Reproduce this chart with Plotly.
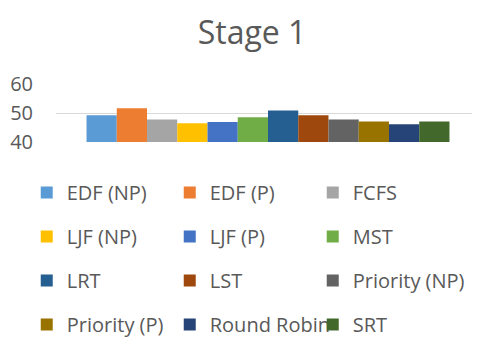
import plotly.graph_objects as go

categories = ["Stage 1"]
series_names = ["EDF (NP)", "EDF (P)", "FCFS", "LJF (NP)", "LJF (P)", "MST",
                "LRT", "LST", "Priority (NP)", "Priority (P)", "Round Robin", "SRT"]
series_values = [49.2, 51.6, 47.8, 46.5, 46.9, 48.5, 50.9, 49.2, 47.8, 47.1, 46.1, 47.1]
colors = ["#5B9BD5", "#ED7D31", "#A5A5A5", "#FFC000", "#4472C4", "#70AD47",
          "#255E91", "#9E480E", "#636363", "#997300", "#264478", "#43682B"]
y_ticks = [40, 50, 60]

fig = go.Figure()
for i, (name, val, col) in enumerate(zip(series_names, series_values, colors)):
    fig.add_trace(go.Bar(x=categories, y=[val], name=name, marker_color=col,
                         marker_line_width=0, legendgroup=name,
                         legendwidth=(130 if i % 3 == 2 else 98)))

FONT = "Open Sans"
fig.update_layout(
    width=472, height=337,
    margin=dict(l=48, r=0, t=76, b=203, autoexpand=False),
    paper_bgcolor="white", plot_bgcolor="white",
    title=dict(text="Stage 1", x=0.517, xanchor="center", y=0.926, yanchor="middle",
               font=dict(family=FONT, size=32, color="#595959")),
    barmode="group", bargap=0.144, bargroupgap=0,
    showlegend=True,
    legend=dict(orientation="h", x=-0.069, xanchor="left", y=-0.534, yanchor="top",
                entrywidth=98, entrywidthmode="pixels", tracegroupgap=15,
                font=dict(family=FONT, size=20, color="#595959"),
                itemwidth=30, traceorder="grouped"),
    xaxis=dict(showticklabels=False, showgrid=False, zeroline=False, showline=False, ticks=""),
    yaxis=dict(range=[40, 60], tickvals=y_ticks, showgrid=True, gridcolor="#D9D9D9",
               gridwidth=1, zeroline=False, showline=False, ticks="",
               ticklabelstandoff=22,
               tickfont=dict(family=FONT, size=20, color="#595959")),
)
fig.write_html("out.html")
